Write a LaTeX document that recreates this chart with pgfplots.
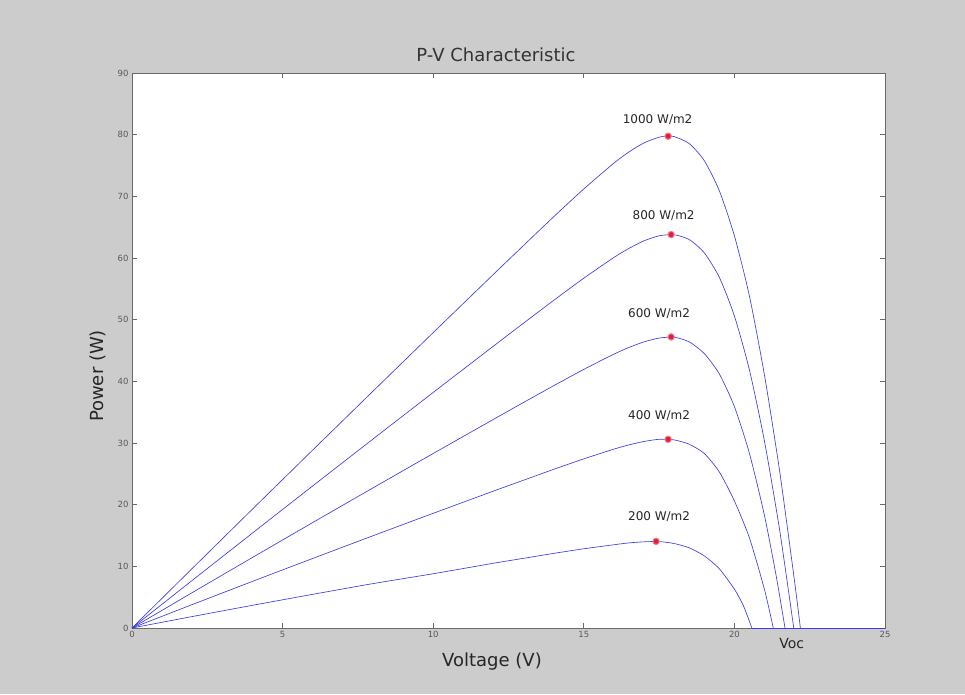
\documentclass[border=0pt]{standalone}
\usepackage{fontspec}
\setmainfont{DejaVu Sans}
\usepackage{pgfplots}
\pgfplotsset{compat=1.18}
\definecolor{figgray}{RGB}{204,204,204}
\definecolor{axgray}{RGB}{105,105,105}
\definecolor{mblue}{RGB}{60,60,232}
\definecolor{mred}{RGB}{225,30,55}
\definecolor{mpink}{RGB}{245,125,145}
\begin{document}
\begin{tikzpicture}[x=1pt,y=1pt]
\fill[figgray] (0,0) rectangle (965,694);
\useasboundingbox (0,0) rectangle (965,694);
\begin{axis}[
  at={(132pt,66pt)}, anchor=south west,
  width=753pt, height=555pt, scale only axis,
  xmin=0, xmax=25, ymin=0, ymax=90,
  xtick={0,5,...,25}, ytick={0,10,...,90},
  axis background/.style={fill=white},
  axis line style={axgray, line width=0.9pt},
  tick style={axgray, line width=0.8pt},
  major tick length=5pt,
  tick align=inside,
  ticklabel style={font=\fontsize{8.5}{10}\selectfont, text=black!65},
  /pgf/number format/assume math mode=true,
  clip=false,
]
\pgfplotsset{pv/.style={mblue, line width=0.65pt, smooth, tension=0.4}}
\addplot[pv] coordinates {(0,0)(2,9.66)(4,19.28)(6,28.86)(8,38.4)(10,47.9)(12,57.35)(13,62.04)(14,66.69)(15,71.2)(16,75.39)(16.5,77.2)(17,78.67)(17.5,79.6)(17.75,79.77)(18,79.69)(18.5,78.56)(19,75.79)(19.5,70.9)(20,63.6)(20.5,53.8)(21,40.96)(21.5,25.49)(22,7.46)(22.19,0)};
\addplot[pv] coordinates {(0,0)(2,7.72)(4,15.4)(6,23.04)(8,30.64)(10,38.2)(12,45.71)(13,49.44)(14,53.13)(15,56.73)(16,60.09)(16.5,61.56)(17,62.79)(17.5,63.6)(18,63.78)(18.5,62.99)(19,60.84)(19.5,56.86)(20,50.6)(20.5,41.82)(21,30.24)(21.5,15.95)(21.97,0)};
\addplot[pv] coordinates {(0,0)(2,5.74)(4,11.44)(6,17.1)(8,22.72)(10,28.3)(12,33.83)(13,36.58)(14,39.29)(15,41.94)(16,44.41)(16.5,45.5)(17,46.4)(17.5,47.02)(18,47.16)(18.5,46.4)(19,44.5)(19.5,41.2)(20,35.9)(20.5,28.3)(21,18.2)(21.4,8.1)(21.68,0)};
\addplot[pv] coordinates {(0,0)(2,3.8)(4,7.56)(6,11.28)(8,14.96)(10,18.6)(12,22.2)(13,23.97)(14,25.73)(15,27.43)(16,29.01)(16.5,29.7)(17,30.25)(17.5,30.6)(18,30.5)(18.5,29.8)(19,28.3)(19.5,25.3)(20,20.6)(20.5,14.6)(21,6.2)(21.29,0)};
\addplot[pv] coordinates {(0,0)(2,1.86)(4,3.68)(6,5.46)(8,7.2)(10,8.8)(12,10.5)(13,11.3)(14,12.1)(15,12.85)(16,13.5)(16.5,13.8)(17,13.98)(17.5,14.02)(18,13.7)(18.5,13.0)(19,11.7)(19.5,9.6)(20,6.3)(20.3,3.6)(20.58,0)};
\addplot[mblue, line width=0.8pt] coordinates {(20.58,0)(25,0)};
\addplot[only marks, mark=*, mark size=3.2pt, mark options={draw=mpink, fill=mred, line width=1pt}] coordinates {(17.8,79.75)(17.9,63.8)(17.9,47.2)(17.8,30.6)(17.4,14.05)};
\node[font=\fontsize{12}{14}\selectfont, text=black!85] at (axis cs:17.45,82.5) {1000 W/m2};
\node[font=\fontsize{12}{14}\selectfont, text=black!85] at (axis cs:17.65,66.9) {800 W/m2};
\node[font=\fontsize{12}{14}\selectfont, text=black!85] at (axis cs:17.5,51.0) {600 W/m2};
\node[font=\fontsize{12}{14}\selectfont, text=black!85] at (axis cs:17.5,34.4) {400 W/m2};
\node[font=\fontsize{12}{14}\selectfont, text=black!85] at (axis cs:17.5,18.0) {200 W/m2};
\node[font=\fontsize{14}{16}\selectfont, text=black!85] at (axis cs:21.9,-2.5) {Voc};
\end{axis}
\node[font=\fontsize{18}{20}\selectfont, text=black!80] at (496,639) {P-V Characteristic};
\node[font=\fontsize{18}{20}\selectfont, text=black!85] at (492,32) {Voltage (V)};
\node[font=\fontsize{18}{20}\selectfont, text=black!85, rotate=90] at (98,318) {Power (W)};
\end{tikzpicture}
\end{document}
